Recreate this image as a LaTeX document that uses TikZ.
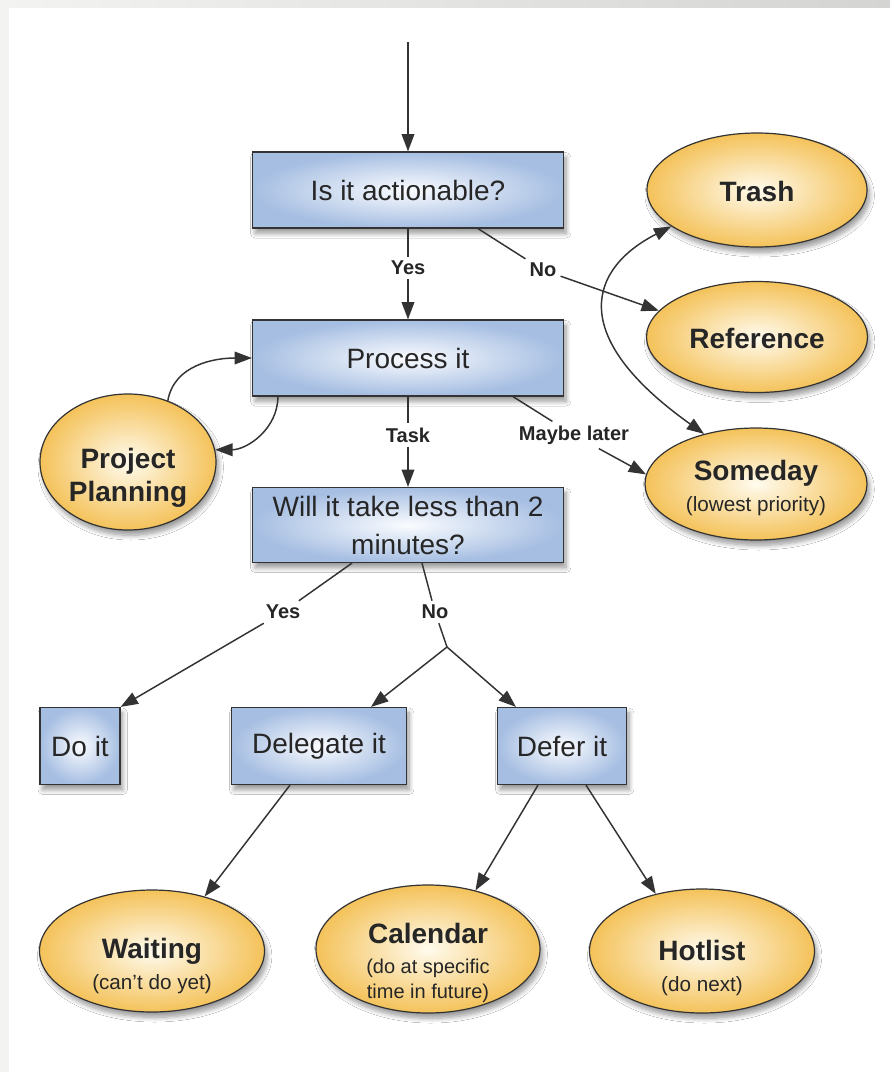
\documentclass[tikz,border=0pt]{standalone}
\usepackage{fontspec}
\setmainfont{Liberation Sans}
\usetikzlibrary{shapes.geometric,arrows.meta,shadows.blur,calc}
\definecolor{boxout}{HTML}{A6BEE2}
\definecolor{boxin}{HTML}{FAFCFF}
\definecolor{ellout}{HTML}{F4C25A}
\definecolor{ellin}{HTML}{FFFBEE}
\definecolor{edgecol}{HTML}{333333}
\definecolor{framel}{HTML}{F3F3F2}
\definecolor{framer}{HTML}{D4D4D2}
\newcommand{\ttl}[1]{{\bfseries\fontsize{21}{26}\selectfont #1}}
\begin{document}
\begin{tikzpicture}[x=0.75pt,y=-0.75pt,
  shad/.style={blur shadow={shadow xshift=2pt,shadow yshift=-4pt,shadow blur radius=3.5pt,shadow blur steps=8,shadow opacity=40}},
  boxnode/.style={rectangle,draw=edgecol,line width=0.9pt,inner color=boxin,outer color=boxout,shad,
    font=\fontsize{21}{28.5}\selectfont,text=black!85,align=center,inner sep=0pt},
  ellnode/.style={ellipse,draw=edgecol,line width=0.9pt,inner color=ellin,outer color=ellout,shad,inner sep=0pt},
  elltext/.style={font=\fontsize{15.5}{19.5}\selectfont,text=black!85,align=center,inner sep=0pt},
  lbl/.style={font=\bfseries\fontsize{15}{18}\selectfont,text=black!85,fill=white,inner sep=3pt},
  conn/.style={draw=edgecol,line width=1.1pt},
  arr/.style={conn,-{Triangle[length=13pt,width=9.5pt]}},
  darr/.style={conn,{Triangle[length=13pt,width=9.5pt]}-{Triangle[length=13pt,width=9.5pt]}}
]
\useasboundingbox (0,0) rectangle (890,1072);
\fill[white] (0,0) rectangle (890,1072);
\shade[left color=framel,right color=framer] (0,0) rectangle (890,7);
\fill[framel] (0,7) rectangle (9,1072);

% boxes
\node[boxnode,minimum width=233.25pt,minimum height=57pt] (act) at (408,190) {Is it actionable?};
\node[boxnode,minimum width=233.25pt,minimum height=57pt] (proc) at (408,358) {Process it};
\node[boxnode,minimum width=233.25pt,minimum height=56.25pt] (will) at (408,525) {Will it take less than 2\\minutes?};
\node[boxnode,minimum width=60pt,minimum height=57.75pt] (doit) at (80,746) {Do it};
\node[boxnode,minimum width=131.25pt,minimum height=57.75pt] (deleg) at (319,746) {Delegate it};
\node[boxnode,minimum width=96.75pt,minimum height=57.75pt] (defer) at (562,746) {Defer it};

% ellipses
\node[ellnode,minimum width=165pt,minimum height=85.5pt] (trash) at (757,190) {};
\node[ellnode,minimum width=165.75pt,minimum height=83.25pt] (ref) at (757,337) {};
\node[ellnode,minimum width=166.5pt,minimum height=84pt] (someday) at (756,484) {};
\node[ellnode,minimum width=132pt,minimum height=102pt] (pp) at (128,462) {};
\node[ellnode,minimum width=168.75pt,minimum height=91.5pt] (waiting) at (152,951) {};
\node[ellnode,minimum width=168pt,minimum height=96pt] (calendar) at (428,949) {};
\node[ellnode,minimum width=168.75pt,minimum height=93pt] (hotlist) at (702,951) {};

% ellipse texts
\node[elltext] (trashtxt) at (757,191) {\ttl{Trash}};
\node[elltext] (reftxt) at (757,338) {\ttl{Reference}};
\node[elltext] (somedaytxt) at (756,488) {\ttl{Someday}\\[3.5pt](lowest priority)};
\node[elltext,font=\bfseries\fontsize{21}{24.5}\selectfont] (pptxt) at (128,478) {Project\\Planning};
\node[elltext] (waitingtxt) at (152,966) {\ttl{Waiting}\\[3.5pt](can't do yet)};
\node[elltext,font=\fontsize{15}{19}\selectfont] (calendartxt) at (428,963) {\ttl{Calendar}\\[3.5pt](do at specific\\time in future)};
\node[elltext] (hotlisttxt) at (702,968) {\ttl{Hotlist}\\[3.5pt](do next)};

% labels
\node[lbl] (yes1) at (408,268) {Yes};
\node[lbl] (no1) at (543,270) {No};
\node[lbl] (task) at (408,435) {Task};
\node[lbl] (maybe) at (574,435) {Maybe later};
\node[lbl] (yes2) at (283,612) {Yes};
\node[lbl] (no2) at (435,612) {No};

% coordinates
\coordinate (start) at (408,42);
\coordinate (actno) at ($(act.south)+(70,0)$);
\coordinate (procml) at ($(proc.south)+(105,0)$);
\coordinate (procpp) at ($(proc.south west)+(26,0)$);
\coordinate (willyes) at ($(will.south)+(-56,0)$);
\coordinate (willno) at ($(will.south)+(14,0)$);
\coordinate (junc) at (447,647);
\coordinate (delegtip) at ($(deleg.north)+(52,0)$);
\coordinate (defertip) at ($(defer.north west)+(19,0)$);
\coordinate (delegout) at ($(deleg.south)+(-29,0)$);
\coordinate (deferl) at ($(defer.south)+(-24,0)$);
\coordinate (deferr) at ($(defer.south)+(24,0)$);

% connectors
\draw[arr] (start) -- (act);
\draw[conn] (act) -- (yes1);
\draw[arr] (yes1) -- (proc);
\draw[conn] (actno) -- (no1);
\draw[arr] (no1) -- (ref.165);
\draw[darr] (trash.203) .. controls (590,268) and (565,335) .. (someday.136);
\draw[arr] (pp.57) to[out=80,in=180] (proc.west);
\draw[arr] (procpp) to[out=-90,in=0] (pp.8);
\draw[conn] (proc) -- (task);
\draw[arr] (task) -- (will);
\draw[conn] (procml) -- (maybe);
\draw[arr] (maybe) -- (someday.175);
\draw[conn] (willyes) -- (yes2);
\draw[arr] (yes2) -- (doit.north east);
\draw[conn] (willno) -- (no2);
\draw[conn] (no2) -- (junc);
\draw[arr] (junc) -- (delegtip);
\draw[arr] (junc) -- (defertip);
\draw[arr] (delegout) -- (waiting.46);
\draw[arr] (deferl) -- (calendar.51);
\draw[arr] (deferr) -- (hotlist.129);
\end{tikzpicture}
\end{document}
